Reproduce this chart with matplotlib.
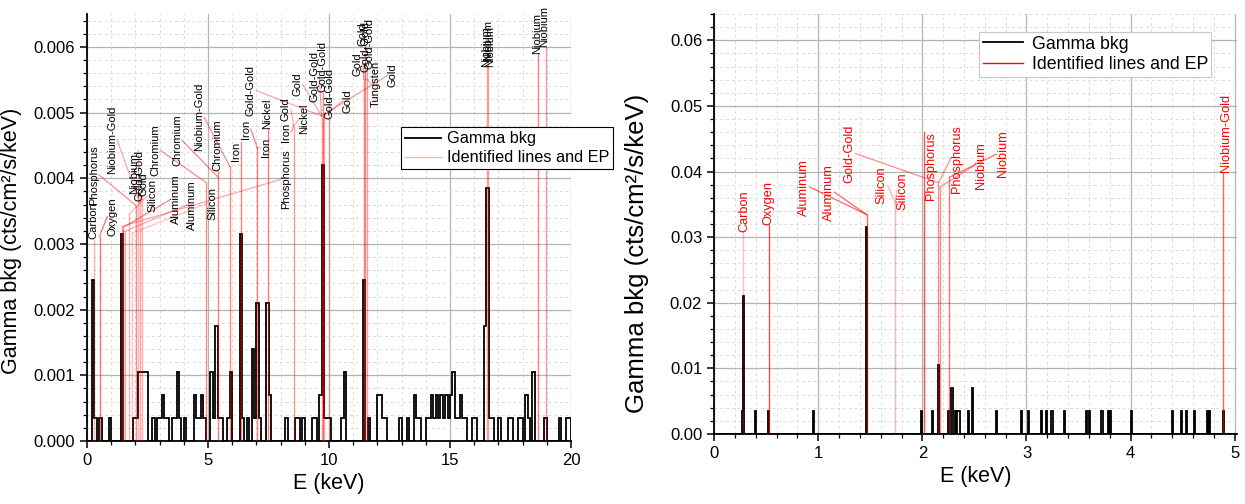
import numpy as np
import matplotlib
matplotlib.use('Agg')
import matplotlib.pyplot as plt
from matplotlib.ticker import MultipleLocator, FormatStrFormatter
from matplotlib.lines import Line2D

plt.rcParams['font.family'] = ['Liberation Sans', 'DejaVu Sans']

# ---------------- data ----------------
legend_labels = ['Gamma bkg', 'Identified lines and EP']
x_label = 'E (keV)'
y_label = 'Gamma bkg (cts/cm²/s/keV)'

# left panel: 0.1 keV bins, counts per bin (1 count = 0.00035 cts/cm2/s/keV)
left_bin_width = 0.1
left_rate_per_count = 0.00035
left_bin_start = [0.2, 0.3, 0.5, 0.9, 1.4, 1.9, 2.0, 2.1, 2.2, 2.3, 2.4, 2.7, 2.9, 3.0, 3.1,
                  3.2, 3.3, 3.5, 3.6, 3.7, 3.8, 4.0, 4.4, 4.5, 4.6, 4.7, 4.8, 5.1, 5.2, 5.3,
                  5.4, 5.5, 5.8, 5.9, 6.3, 6.4, 6.6, 6.8, 6.9, 7.0, 7.1, 7.4, 7.5, 8.2, 8.6,
                  8.7, 8.9, 9.3, 9.4, 9.6, 9.7, 9.8, 9.9, 10.0, 10.5, 10.6, 11.4, 11.6, 12.0,
                  12.1, 12.2, 12.3, 12.9, 13.2, 13.5, 13.6, 13.7, 14.0, 14.1, 14.2, 14.3, 14.4,
                  14.5, 14.6, 14.7, 14.8, 14.9, 15.0, 15.1, 15.2, 15.3, 15.4, 15.5, 15.6, 15.9,
                  16.0, 16.4, 16.5, 16.6, 16.7, 17.0, 17.4, 17.5, 17.8, 17.9, 18.1, 18.2, 18.4,
                  18.9, 19.5, 19.8, 19.9]
left_counts = [7, 1, 1, 1, 9, 1, 1, 3, 3, 3, 3, 1, 1, 1, 2,
               1, 1, 1, 1, 3, 1, 1, 2, 1, 1, 2, 1, 3, 1, 5,
               1, 1, 1, 3, 9, 1, 1, 4, 1, 6, 1, 6, 2, 1, 1,
               1, 1, 1, 1, 2, 12, 1, 1, 1, 1, 3, 7, 1, 2,
               2, 1, 1, 1, 1, 2, 1, 1, 1, 1, 2, 1, 2,
               1, 2, 1, 2, 1, 2, 3, 1, 1, 2, 1, 1, 1,
               1, 5, 11, 1, 1, 1, 1, 1, 1, 1, 2, 1, 3,
               1, 1, 1, 1]

# right panel: 0.01 keV bins (1 count = 0.0035 cts/cm2/s/keV)
right_bin_width = 0.01
right_rate_per_count = 0.0035
right_bin_start = [0.27, 0.28, 0.39, 0.52, 0.95, 1.46, 1.99, 2.09, 2.15, 2.25, 2.28, 2.31, 2.33,
                   2.34, 2.35, 2.44, 2.48, 2.71, 2.95, 3.01, 3.14, 3.19, 3.24, 3.36, 3.57, 3.60,
                   3.72, 3.78, 3.80, 4.00, 4.40, 4.48, 4.53, 4.61, 4.73, 4.75, 4.89]
right_counts = [1, 6, 1, 1, 1, 9, 1, 1, 3, 1, 2, 1, 1,
                1, 1, 1, 2, 1, 1, 1, 1, 1, 1, 1, 1, 1,
                1, 1, 1, 1, 1, 1, 1, 1, 1, 1, 1]

# identified lines (left panel): name, line energy (keV), top of the line
left_line_names = ['Carbon', 'Phosphorus', 'Oxygen', 'Niobium-Gold', 'Niobium', 'Gold-Gold', 'Gold',
                   'Silicon', 'Chromium', 'Aluminum', 'Chromium', 'Aluminum', 'Niobium-Gold', 'Silicon',
                   'Chromium', 'Iron', 'Iron', 'Gold-Gold', 'Nickel', 'Iron', 'Phosphorus', 'Iron',
                   'Gold', 'Gold', 'Nickel', 'Gold-Gold', 'Gold-Gold', 'Gold-Gold', 'Gold', 'Gold',
                   'Gold', 'Gold-Gold', 'Gold-Gold', 'Tungsten', 'Gold', 'Niobium', 'Niobium',
                   'Niobium', 'Niobium', 'Niobium']
left_line_energy = [0.28, 2.01, 0.52, 2.17, 2.17, 2.12, 2.26,
                    1.74, 4.91, 1.49, 5.41, 1.55, 5.90, 1.84,
                    5.41, 6.38, 7.03, 9.69, 7.46, 7.03, 1.45, 8.54,
                    8.54, 9.69, 8.54, 9.69, 9.76, 10.0, 9.80, 11.44,
                    11.47, 11.47, 11.58, 11.58, 9.69, 16.52, 16.58,
                    16.58, 18.62, 18.96]
left_line_top = [0.00307, 0.00359, 0.00312, 0.00363, 0.00366, 0.00366, 0.00368,
                 0.00345, 0.00394, 0.00325, 0.00402, 0.00319, 0.00418, 0.00316,
                 0.00402, 0.00432, 0.00447, 0.00495, 0.00470, 0.00447, 0.00327, 0.00480,
                 0.00480, 0.00495, 0.00480, 0.00495, 0.00531, 0.00490, 0.00495, 0.00551,
                 0.00551, 0.00551, 0.00551, 0.00551, 0.00495, 0.00570, 0.00570,
                 0.00570, 0.00586, 0.00597]
# label placement (layout)
left_label_x = [0.25, 0.28, 1.04, 1.04, 1.94, 2.18, 2.32,
                2.69, 2.83, 3.66, 3.73, 4.35, 4.63, 5.18,
                5.39, 6.15, 6.56, 6.77, 7.46, 7.39, 8.22, 8.22,
                8.22, 8.70, 8.98, 9.39, 9.74, 10.02, 10.78, 11.19,
                11.40, 11.52, 11.66, 11.95, 12.64, 16.48, 16.58,
                16.66, 18.58, 18.90]
left_label_y = [0.00307, 0.00360, 0.00312, 0.00406, 0.00376, 0.00365, 0.00373,
                0.00348, 0.00403, 0.00330, 0.00418, 0.00322, 0.00441, 0.00337,
                0.00411, 0.00426, 0.00460, 0.00495, 0.00475, 0.00432, 0.00353, 0.00455,
                0.00487, 0.00525, 0.00467, 0.00516, 0.00531, 0.00490, 0.00500, 0.00556,
                0.00602, 0.00562, 0.00567, 0.00508, 0.00539, 0.00570, 0.00579,
                0.00570, 0.00590, 0.00600]
left_line_alpha = [0.3, 0.45, 0.55, 0.35, 0.35, 0.3, 0.3,
                   0.3, 0.45, 0.5, 0.5, 0.35, 0.45, 0.25,
                   0.5, 0.5, 0.5, 0.35, 0.5, 0.3, 0.35, 0.4,
                   0.3, 0.35, 0.35, 0.4, 0.5, 0.2, 0.35, 0.5,
                   0.4, 0.4, 0.4, 0.3, 0.4, 0.35, 0.35,
                   0.35, 0.5, 0.4]

# identified lines (right panel)
right_line_names = ['Carbon', 'Oxygen', 'Aluminum', 'Aluminum', 'Gold-Gold', 'Silicon', 'Silicon',
                    'Phosphorus', 'Phosphorus', 'Niobium', 'Niobium', 'Niobium-Gold']
right_line_energy = [0.277, 0.525, 1.47, 1.47, 2.155, 1.74, 1.74,
                     2.013, 2.155, 2.166, 2.257, 4.89]
right_line_top = [0.0304, 0.0315, 0.0334, 0.0334, 0.0383, 0.0353, 0.0353,
                  0.0368, 0.0383, 0.0376, 0.0391, 0.0400]
right_label_x = [0.293, 0.524, 0.861, 1.10, 1.30, 1.61, 1.81,
                 2.08, 2.33, 2.56, 2.77, 4.92]
right_label_y = [0.0308, 0.0318, 0.0333, 0.0325, 0.0383, 0.0350, 0.0342,
                 0.0357, 0.0368, 0.0374, 0.0391, 0.0400]
right_line_alpha = [0.25, 0.7, 0.6, 0.6, 0.45, 0.3, 0.3,
                    0.7, 0.45, 0.45, 0.55, 0.6]


# ---------------- helpers ----------------
def build_hist(starts, counts, width, xmax, rate):
    nb = int(round(xmax / width))
    edges = np.arange(nb + 1) * width
    vals = np.zeros(nb)
    idx = np.round(np.asarray(starts) / width).astype(int)
    np.add.at(vals, idx, np.asarray(counts, dtype=float) * rate)
    return edges, vals


def style_axes(ax, xlim, ylim, xmaj, xmin, ymaj, ymin, yfmt):
    ax.set_xlim(*xlim)
    ax.set_ylim(*ylim)
    ax.xaxis.set_major_locator(MultipleLocator(xmaj))
    ax.xaxis.set_minor_locator(MultipleLocator(xmin))
    ax.yaxis.set_major_locator(MultipleLocator(ymaj))
    ax.yaxis.set_minor_locator(MultipleLocator(ymin))
    ax.yaxis.set_major_formatter(FormatStrFormatter(yfmt))
    ax.grid(which='major', color='#b4b4b4', lw=0.9, ls='-', zorder=0)
    ax.grid(which='minor', color='#dcdcdc', lw=0.7, ls=(0, (3, 3)), zorder=0)
    ax.set_axisbelow(True)
    for s in ['top', 'right']:
        ax.spines[s].set_visible(False)
    for s in ['left', 'bottom']:
        ax.spines[s].set_linewidth(1.3)
    ax.tick_params(which='major', direction='out', length=5, width=1.1, labelsize=12)
    ax.tick_params(which='minor', direction='out', length=3, width=0.9)
    ax.set_xlabel(x_label, fontsize=15.5)


def add_texts(ax, names, tx, ty, color, fs):
    out = []
    for n, x, y in zip(names, tx, ty):
        out.append(ax.text(x, y, n, rotation=90, ha='center', va='bottom', fontsize=fs,
                           color=color, clip_on=False, zorder=6))
    return out


def add_leaders(ax, texts, energies, tops, alphas, renderer):
    inv = ax.transData.inverted()
    verticals = {}
    for t, e, top, a in zip(texts, energies, tops, alphas):
        bb = t.get_window_extent(renderer)
        px, py = ax.transData.transform((e, top))
        if bb.x0 - 1 <= px <= bb.x1 + 1:
            sx, sy = px, (bb.y0 if py <= bb.y0 else bb.y1)
        elif px > bb.x1:
            sx, sy = bb.x1, 0.5 * (bb.y0 + bb.y1)
        else:
            sx, sy = bb.x0, 0.5 * (bb.y0 + bb.y1)
        s = inv.transform((sx, sy))
        ax.plot([s[0], e], [s[1], top], color='red', alpha=a, lw=0.9,
                zorder=4, clip_on=False)
        if e in verticals:
            verticals[e] = (max(verticals[e][0], top), max(verticals[e][1], a))
        else:
            verticals[e] = (top, a)
    for e, (top, a) in verticals.items():
        ax.plot([e, e], [top, 0], color='red', alpha=a, lw=1.0, zorder=4,
                solid_capstyle='butt')


# ---------------- figure ----------------
fig = plt.figure(figsize=(12.45, 5.04), dpi=100)
axL = fig.add_axes([0.0699, 0.125, 0.3888, 0.847])
axR = fig.add_axes([0.5735, 0.139, 0.4200, 0.833])

# left
edges, vals = build_hist(left_bin_start, left_counts, left_bin_width, 20.0, left_rate_per_count)
axL.stairs(vals, edges, baseline=0, color='black', lw=1.3, zorder=3)
style_axes(axL, (0, 20), (0, 0.0065), 5, 1, 0.001, 0.0002, '%.3f')
axL.set_ylabel(y_label, fontsize=15.5)
axL.yaxis.set_label_coords(-0.134, 0.468)
legL = axL.legend([Line2D([], [], color='black', lw=1.3),
                   Line2D([], [], color='red', alpha=0.3, lw=1.0)],
                  legend_labels, loc='upper left', bbox_to_anchor=(0.648, 0.735), fontsize=11.7,
                  frameon=True, fancybox=False, edgecolor='black', framealpha=1,
                  handlelength=2.2, borderpad=0.25, labelspacing=0.25, handletextpad=0.4,
                  borderaxespad=0)
legL.get_frame().set_linewidth(0.8)
legL.set_zorder(7)
textsL = add_texts(axL, left_line_names, left_label_x, left_label_y, 'black', 8.0)

# right
edges, vals = build_hist(right_bin_start, right_counts, right_bin_width, 5.0, right_rate_per_count)
axR.stairs(vals, edges, baseline=0, color='black', lw=1.3, zorder=3)
style_axes(axR, (0, 5.02), (0, 0.064), 1, 0.2, 0.01, 0.002, '%.2f')
axR.set_ylabel(y_label, fontsize=18.5)
axR.yaxis.set_label_coords(-0.124, 0.43)
legR = axR.legend([Line2D([], [], color='black', lw=1.3),
                   Line2D([], [], color='red', lw=1.0)],
                  legend_labels, loc='upper left', bbox_to_anchor=(0.507, 0.957), fontsize=12.8,
                  frameon=True, fancybox=False, edgecolor='#c8c8c8', framealpha=1,
                  handlelength=2.25, borderpad=0.2, labelspacing=0.2, handletextpad=0.5,
                  borderaxespad=0)
legR.get_frame().set_linewidth(0.8)
textsR = add_texts(axR, right_line_names, right_label_x, right_label_y, 'red', 9.2)

fig.canvas.draw()
renderer = fig.canvas.get_renderer()
add_leaders(axL, textsL, left_line_energy, left_line_top, left_line_alpha, renderer)
add_leaders(axR, textsR, right_line_energy, right_line_top, right_line_alpha, renderer)

fig.savefig('out.png', dpi=100)
